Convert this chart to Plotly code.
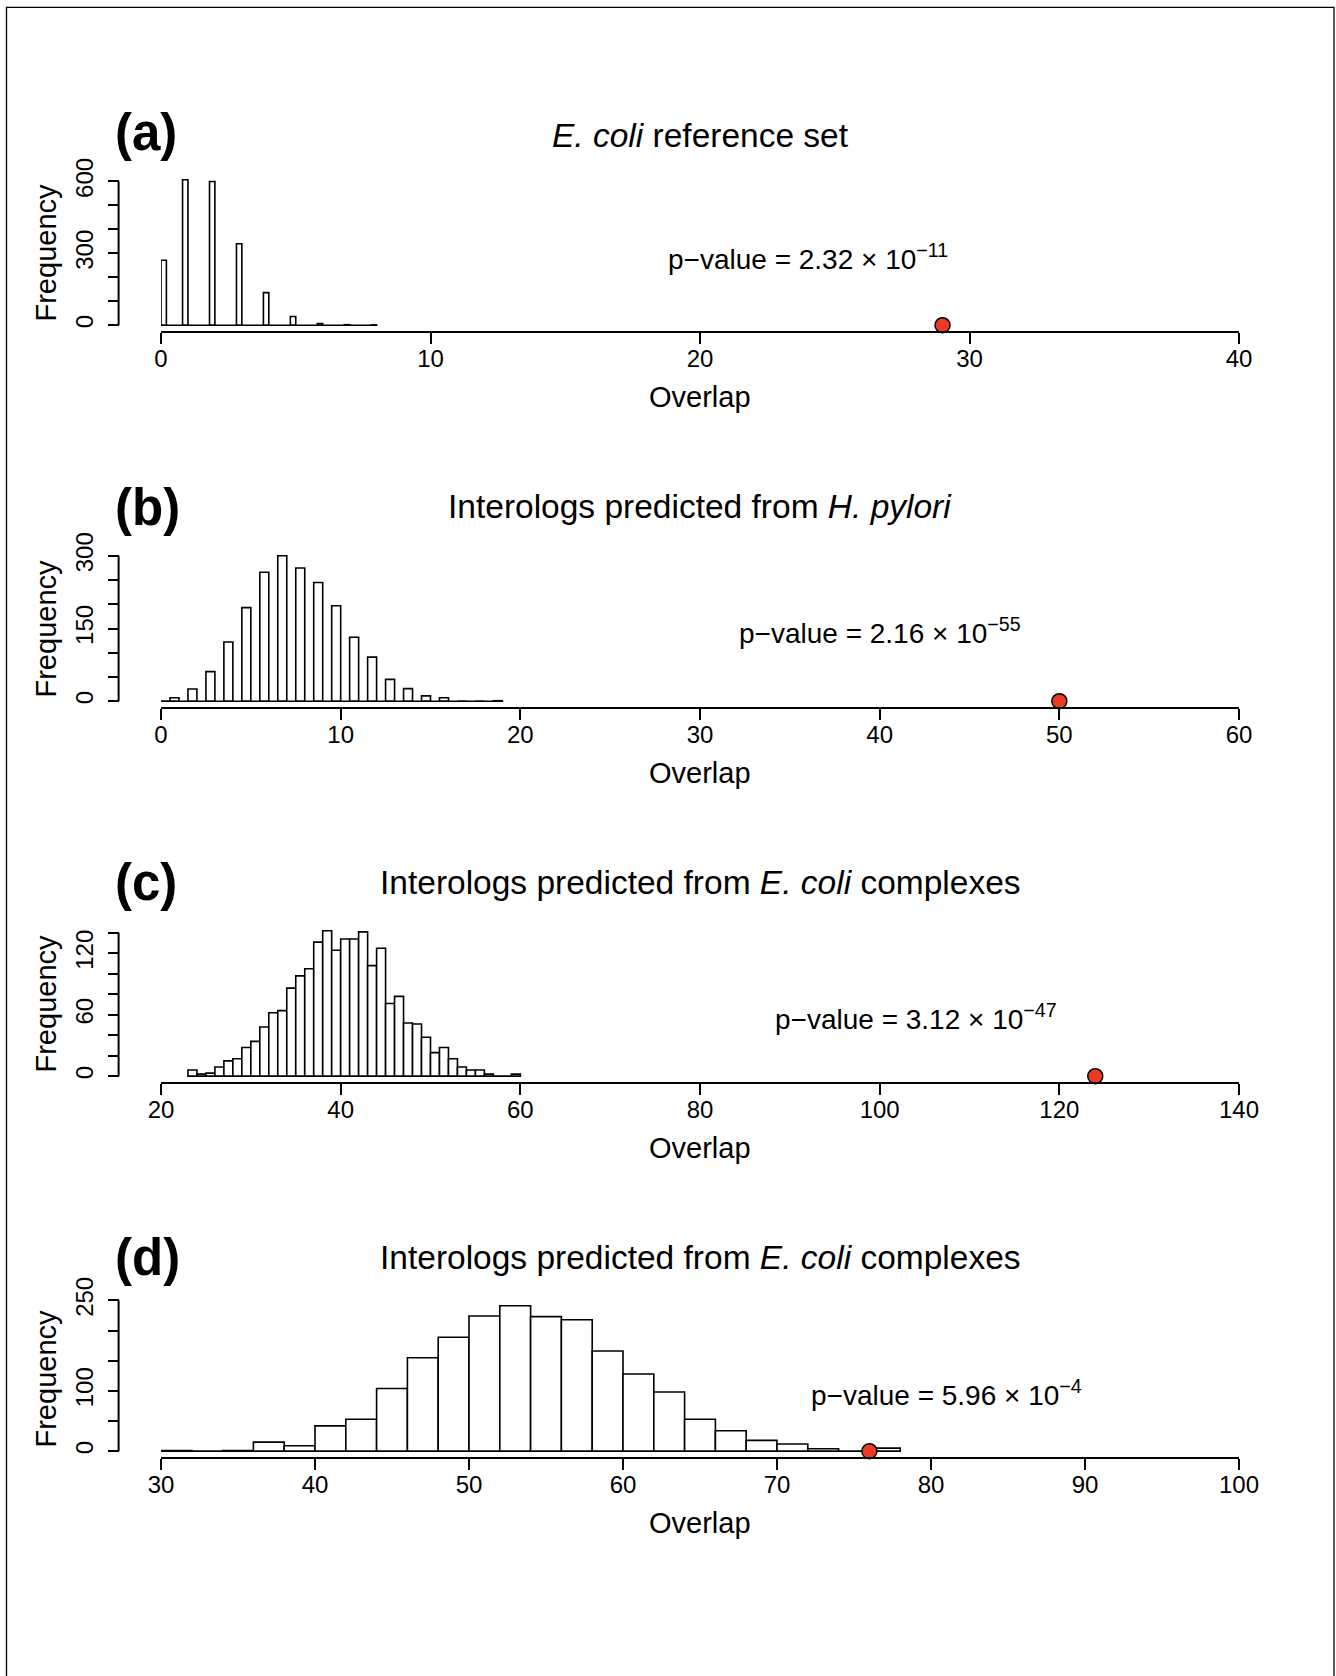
import plotly.graph_objects as go

# ---- data ----
# (a) E. coli reference set, bins of width 0.2
a_overlap = [0, 1, 2, 3, 4, 5, 6, 7, 8]
a_freq = [271, 607, 600, 340, 136, 36, 7, 2, 1]

# (b) interologs predicted from H. pylori, bins of width 0.5
b_overlap = list(range(0, 20))
b_freq = [0, 7, 25, 61, 122, 193, 266, 300, 275, 245, 197, 132, 91, 45, 26, 11, 7, 0, 0, 1]

# (c) interologs predicted from E. coli complexes, bins of width 1
c_overlap = list(range(24, 61))
c_freq = [6, 2, 3, 9, 15, 17, 28, 34, 48, 62, 64, 86, 98, 105, 131, 142, 123, 134, 134,
          141, 108, 125, 71, 78, 52, 51, 38, 23, 28, 17, 9, 6, 6, 2, 0, 0, 2]

# (d) interologs predicted from E. coli complexes, bins of width 2
d_overlap = list(range(32, 80, 2))
d_freq = [1, 0, 1, 15, 9, 42, 53, 104, 155, 189, 224, 241, 223, 218, 166, 128, 98,
          53, 34, 18, 12, 4, 0, 5]

observed = [29, 50, 124, 76]
bin_width = [0.2, 0.5, 1, 2]
first_break = [0, 0, 23, 30]

x_ranges = [(0, 40), (0, 60), (20, 140), (30, 100)]
x_steps = [10, 10, 20, 10]
y_ticks = [
    [0, 100, 200, 300, 400, 500, 600],
    [0, 50, 100, 150, 200, 250, 300],
    [0, 20, 40, 60, 80, 100, 120, 140],
    [0, 50, 100, 150, 200, 250],
]
y_labelled = [
    [0, 300, 600],
    [0, 150, 300],
    [0, 60, 120],
    [0, 100, 250],
]
panel_tags = ["(a)", "(b)", "(c)", "(d)"]
titles = [
    "<i>E. coli</i> reference set",
    "Interologs predicted from <i>H. pylori</i>",
    "Interologs predicted from <i>E. coli</i> complexes",
    "Interologs predicted from <i>E. coli</i> complexes",
]
p_values = [
    "p\u2212value = 2.32 \u00d7 10<sup>\u221211</sup>",
    "p\u2212value = 2.16 \u00d7 10<sup>\u221255</sup>",
    "p\u2212value = 3.12 \u00d7 10<sup>\u221247</sup>",
    "p\u2212value = 5.96 \u00d7 10<sup>\u22124</sup>",
]
p_pos = [(24, 286), (40, 145), (104, 58), (81, 97)]

overlaps = [a_overlap, b_overlap, c_overlap, d_overlap]
freqs = [a_freq, b_freq, c_freq, d_freq]

# ---- page geometry (pixels) ----
W, H = 1336, 1676
PLOT_LEFT, PLOT_RIGHT = 161, 1239
YAXIS_X = 118.6
panel_tops = [174, 550, 925, 1300]
title_y = [135, 507, 882, 1257.5]
tag_y = [132.5, 507.5, 882.5, 1257.5]
PANEL_H = 157
FONT = "Liberation Sans, Arial, Helvetica, sans-serif"


def px_x(v):
    return v / W


def px_y(v):
    return 1 - v / H


fig = go.Figure()
annotations = []
shapes = []
layout = {}

for i in range(4):
    n = "" if i == 0 else str(i + 1)
    xa, ya = "x" + n, "y" + n
    w = bin_width[i]
    vals, cnts = overlaps[i], freqs[i]
    lefts = [max(v - w, first_break[i]) for v in vals]
    centers = [l + w / 2 for l in lefts]

    # flat baseline so empty bins show as in R's hist()
    fig.add_trace(go.Scatter(
        x=[first_break[i], vals[-1]], y=[0, 0], mode="lines",
        line=dict(color="black", width=1.5), xaxis=xa, yaxis=ya,
        showlegend=False, hoverinfo="skip", cliponaxis=False))
    fig.add_trace(go.Bar(
        x=centers, y=cnts, width=w, xaxis=xa, yaxis=ya,
        marker=dict(color="white", line=dict(color="black", width=1.6)),
        showlegend=False, cliponaxis=False))
    fig.add_trace(go.Scatter(
        x=[observed[i]], y=[0], mode="markers", xaxis=xa, yaxis=ya,
        marker=dict(size=15, color="#EB3B25", line=dict(color="black", width=1.5)),
        showlegend=False, cliponaxis=False))

    top = panel_tops[i]
    bottom = top + PANEL_H
    ymax = max(cnts)
    lo, hi = x_ranges[i]

    layout["xaxis" + n] = dict(
        domain=[px_x(PLOT_LEFT), px_x(PLOT_RIGHT)], range=[lo, hi], anchor=ya,
        tickvals=list(range(lo, hi + 1, x_steps[i])), ticks="outside", ticklen=11,
        tickwidth=2, tickcolor="black", showline=True, linewidth=2, linecolor="black",
        showgrid=False, zeroline=False, tickfont=dict(size=24, color="black"),
        ticklabelstandoff=-6, automargin=False, fixedrange=True)
    layout["yaxis" + n] = dict(
        domain=[px_y(bottom), px_y(top)], range=[-0.04 * ymax, 1.04 * ymax],
        anchor="free", position=px_x(YAXIS_X), tickvals=y_labelled[i],
        tickangle=-90, ticks="outside", ticklen=11, tickwidth=2, tickcolor="black",
        minor=dict(tickvals=y_ticks[i], ticks="outside", ticklen=11, tickwidth=2,
                   tickcolor="black", showgrid=False),
        showline=False, showgrid=False, zeroline=False, automargin=False,
        ticklabelstandoff=5, tickfont=dict(size=24, color="black"), fixedrange=True)

    # y axis line only between first and last tick, like R's axis()
    shapes.append(dict(type="line", xref="paper", yref=ya,
                       x0=px_x(YAXIS_X), x1=px_x(YAXIS_X),
                       y0=y_ticks[i][0], y1=y_ticks[i][-1],
                       line=dict(color="black", width=2)))

    annotations += [
        dict(text="<b>" + panel_tags[i] + "</b>", x=px_x(113), y=px_y(tag_y[i]),
             xref="paper", yref="paper", xanchor="left", yanchor="middle",
             showarrow=False, font=dict(size=51, color="black")),
        dict(text=titles[i], x=px_x((PLOT_LEFT + PLOT_RIGHT) / 2), y=px_y(title_y[i]),
             xref="paper", yref="paper", xanchor="center", yanchor="middle",
             showarrow=False, font=dict(size=33.5, color="black")),
        dict(text="Overlap", x=px_x((PLOT_LEFT + PLOT_RIGHT) / 2), y=px_y(bottom + 66),
             xref="paper", yref="paper", xanchor="center", yanchor="middle",
             showarrow=False, font=dict(size=29, color="black")),
        dict(text="Frequency", x=px_x(45), y=px_y((top + bottom) / 2),
             xref="paper", yref="paper", xanchor="center", yanchor="middle",
             textangle=-90, showarrow=False, font=dict(size=29, color="black")),
        dict(text=p_values[i], x=p_pos[i][0], y=p_pos[i][1], xref=xa, yref=ya,
             xanchor="center", yanchor="middle", showarrow=False,
             font=dict(size=28, color="black")),
    ]

# thin frame round the whole figure (open at the bottom, as in the source)
shapes.append(dict(type="path", xref="paper", yref="paper",
                   path="M {:.5f},0 L {:.5f},{:.5f} L {:.5f},{:.5f} L {:.5f},0".format(
                       px_x(6.5), px_x(6.5), px_y(7.3), px_x(1334), px_y(7.3), px_x(1334)),
                   line=dict(color="black", width=1.3)))

fig.update_layout(
    width=W, height=H, margin=dict(l=0, r=0, t=0, b=0, autoexpand=False),
    paper_bgcolor="white", plot_bgcolor="white",
    font=dict(family=FONT, color="black"),
    barmode="overlay", annotations=annotations, shapes=shapes,
    **layout)

fig.write_html(
    "out.html",
    config={"displayModeBar": False},
    post_script="document.body.style.margin='0';")
